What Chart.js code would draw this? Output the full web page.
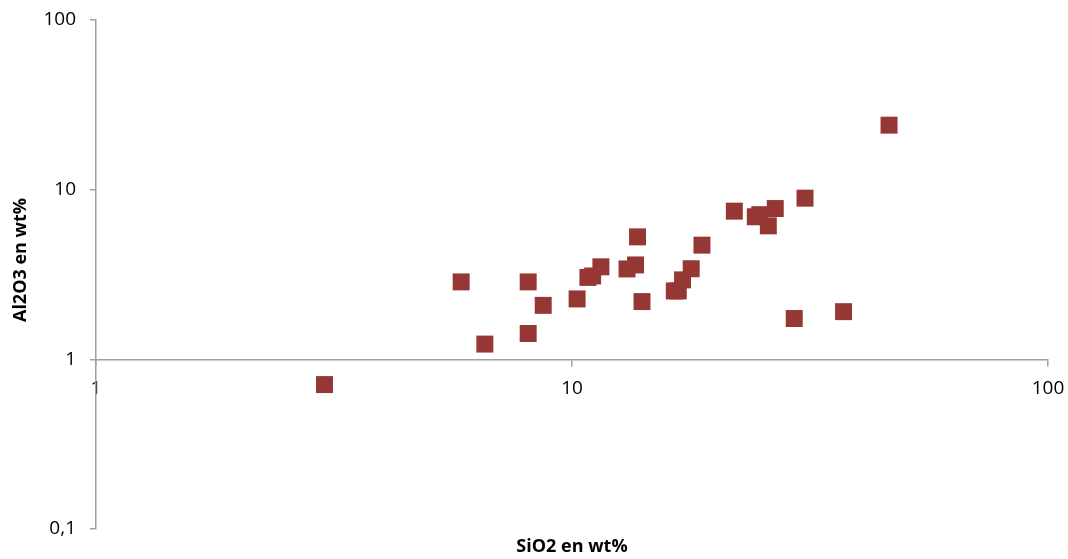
<!DOCTYPE html>
<html>
<head>
<meta charset="utf-8">
<script src="https://cdn.jsdelivr.net/npm/chart.js@4/dist/chart.umd.min.js"></script>
<style>
  html, body { margin: 0; padding: 0; background: #fff; }
</style>
</head>
<body>
<canvas id="chart" width="1068" height="559"></canvas>
<script>
// data
const siO2 = [3.02, 5.85, 6.56, 8.09, 8.09, 8.70, 10.25, 10.8, 11.05, 11.5, 13.05, 13.6, 13.73, 14.03,
  16.4, 16.72, 17.07, 17.8, 18.75, 21.93, 24.27, 24.8, 25.85, 26.73, 30.87, 29.3, 37.2, 46.35];
const al2O3 = [0.71, 2.86, 1.23, 2.86, 1.42, 2.08, 2.27, 3.04, 3.1, 3.51, 3.41, 3.6, 5.27, 2.19,
  2.53, 2.53, 2.94, 3.42, 4.71, 7.47, 6.92, 7.12, 6.12, 7.74, 8.91, 1.74, 1.91, 24.0];

const xTicks = [1, 10, 100];
const yTicks = [0.1, 1, 10, 100];
const yTickLabels = ['0,1', '1', '10', '100'];

const xTitle = 'SiO2 en wt%';
const yTitle = 'Al2O3 en wt%';

const axisColor = '#a0a0a0';
const markColor = '#953735';

// axis titles, drawn where the original has them
const titlesPlugin = {
  id: 'titles',
  afterDraw(chart) {
    const ctx = chart.ctx;
    const area = chart.chartArea;
    ctx.save();
    ctx.fillStyle = '#000';
    ctx.font = 'bold 18px "Open Sans"';
    ctx.textAlign = 'center';
    ctx.textBaseline = 'middle';
    ctx.fillText(xTitle, (area.left + area.right) / 2, 547);
    ctx.translate(21, 260);
    ctx.rotate(-Math.PI / 2);
    ctx.fillText(yTitle, 0, 0);
    ctx.restore();
  }
};

new Chart(document.getElementById('chart'), {
  type: 'scatter',
  data: {
    datasets: [{
      data: siO2.map((x, i) => ({ x: x, y: al2O3[i] })),
      pointStyle: 'rect',
      pointRadius: 12,
      pointHoverRadius: 12,
      backgroundColor: markColor,
      borderColor: markColor,
      borderWidth: 0
    }]
  },
  options: {
    responsive: false,
    animation: false,
    layout: { padding: { left: 0, top: 20, right: 20, bottom: 30 } },
    plugins: {
      legend: { display: false },
      tooltip: { enabled: false }
    },
    scales: {
      x: {
        type: 'logarithmic',
        position: { y: 1 },
        min: 1,
        max: 100,
        afterFit: s => { s.height = 0; s.paddingLeft = 0; s.paddingRight = 0; },
        afterBuildTicks: s => { s.ticks = xTicks.map(v => ({ value: v })); },
        border: { color: axisColor, width: 1.5 },
        grid: { drawOnChartArea: false, drawTicks: true, tickLength: 6, color: axisColor, lineWidth: 1.5 },
        ticks: {
          padding: 12,
          color: '#000',
          font: { family: '"Open Sans"', size: 19 },
          maxRotation: 0,
          callback: v => String(v)
        }
      },
      y: {
        type: 'logarithmic',
        min: 0.1,
        max: 100,
        afterFit: s => { s.width = 96; s.paddingTop = 0; s.paddingBottom = 0; },
        afterBuildTicks: s => { s.ticks = yTicks.map(v => ({ value: v })); },
        border: { color: axisColor, width: 1.5 },
        grid: { drawOnChartArea: false, drawTicks: true, tickLength: 6, color: axisColor, lineWidth: 1.5 },
        ticks: {
          padding: 14,
          color: '#000',
          font: { family: '"Open Sans"', size: 19 },
          callback: v => yTickLabels[yTicks.indexOf(v)]
        }
      }
    }
  },
  plugins: [titlesPlugin]
});
</script>
</body>
</html>
